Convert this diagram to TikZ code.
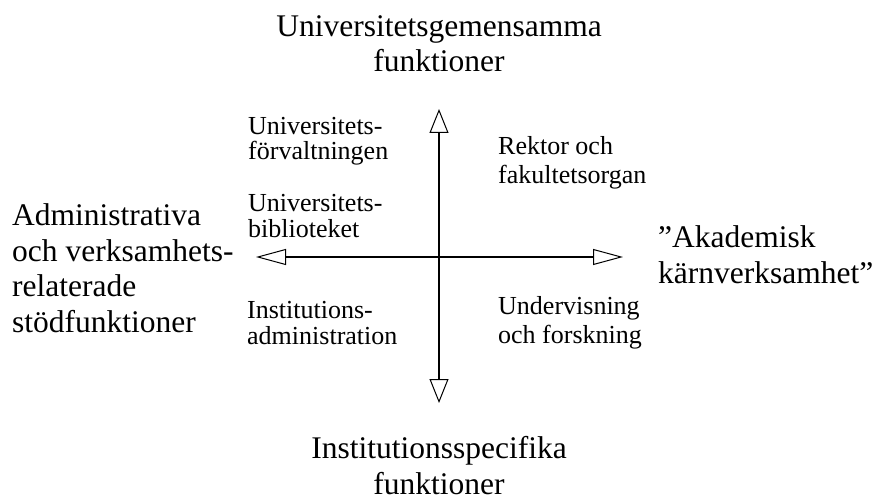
\documentclass[tikz,border=0pt]{standalone}
\usepackage{fontspec}
\setmainfont{Liberation Serif}
\usetikzlibrary{arrows.meta}

\begin{document}
\begin{tikzpicture}[x=1pt, y=-1pt,
    big/.style={font=\fontsize{31.5}{35.5}\selectfont, inner sep=0pt, align=left, anchor=base west},
    small/.style={font=\fontsize{26}{25.5}\selectfont, inner sep=0pt, align=left, anchor=base west},
    smallwide/.style={small, font=\fontsize{26}{28.5}\selectfont},
    haxis/.style={line width=1.8pt, {Triangle[open, length=30pt, width=16pt, line width=1pt 0 1]}-{Triangle[open, length=30pt, width=16pt, line width=1pt 0 1]}},
    vaxis/.style={line width=1.2pt, {Triangle[open, length=24pt, width=19pt, line width=1pt 0 1]}-{Triangle[open, length=24pt, width=19pt, line width=1pt 0 1]}}]
    \useasboundingbox (0,0) rectangle (876,500);
    % axes
    \coordinate (top) at (439,109);
    \coordinate (bot) at (439,403);
    \coordinate (lft) at (256,257);
    \coordinate (rgt) at (623,257);
    \draw[vaxis] (top) -- (bot);
    \draw[haxis] (lft) -- (rgt);
    % axis labels (anchored at the last line)
    \node[big, align=center, anchor=base] (univgem) at (439,72) {Universitetsgemensamma\\funktioner};
    \node[big, align=center, anchor=base] (instspec) at (439,494) {Institutionsspecifika\\funktioner};
    \node[big] (admin) at (12,332) {Administrativa\\och verksamhets-\\relaterade\\stödfunktioner};
    \node[big] (akad) at (658,283) {”Akademisk\\kärnverksamhet”};
    % quadrants
    \node[small] (forv) at (248,160) {Universitets-\\förvaltningen};
    \node[small] (bibl) at (248,237) {Universitets-\\biblioteket};
    \node[smallwide] (rektor) at (498,183) {Rektor och\\fakultetsorgan};
    \node[small] (instadm) at (247,344) {Institutions-\\administration};
    \node[smallwide] (underv) at (498,343) {Undervisning\\och forskning};
\end{tikzpicture}
\end{document}
